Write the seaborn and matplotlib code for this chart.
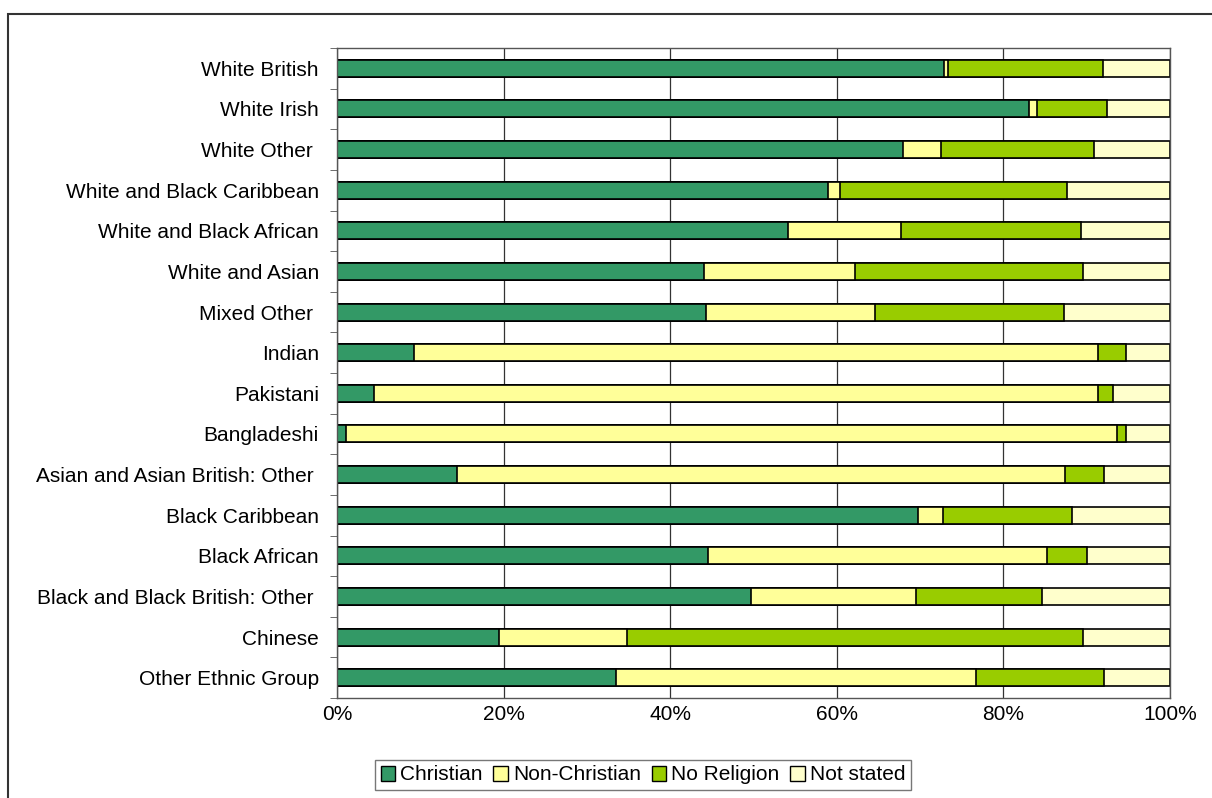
import pandas as pd
import seaborn as sns
import matplotlib.pyplot as plt
from matplotlib.patches import Patch, Rectangle

groups = ['White British', 'White Irish', 'White Other ', 'White and Black Caribbean',
          'White and Black African', 'White and Asian', 'Mixed Other ', 'Indian',
          'Pakistani', 'Bangladeshi', 'Asian and Asian British: Other ', 'Black Caribbean',
          'Black African', 'Black and Black British: Other ', 'Chinese', 'Other Ethnic Group']

christian = [72.9, 83.1, 68.0, 58.9, 54.2, 44.1, 44.3, 9.3, 4.4, 1.1, 14.4, 69.7, 44.5, 49.7, 19.5, 33.5]
non_christian = [0.5, 0.9, 4.5, 1.5, 13.5, 18.1, 20.3, 82.0, 86.9, 92.5, 73.0, 3.0, 40.7, 19.8, 15.3, 43.2]
no_religion = [18.6, 8.4, 18.4, 27.2, 21.6, 27.4, 22.7, 3.4, 1.9, 1.1, 4.7, 15.5, 4.8, 15.1, 54.8, 15.4]
not_stated = [8.0, 7.6, 9.1, 12.4, 10.7, 10.4, 12.7, 5.3, 6.8, 5.3, 7.9, 11.8, 10.0, 15.4, 10.4, 7.9]

series = ['Christian', 'Non-Christian', 'No Religion', 'Not stated']
colors = ['#339966', '#FFFF99', '#99CC00', '#FFFFCC']
fam = ['Liberation Sans', 'DejaVu Sans']

df = pd.DataFrame({'group': groups, 'Christian': christian, 'Non-Christian': non_christian,
                   'No Religion': no_religion, 'Not stated': not_stated})
# normalise rows to 100% and build cumulative sums for stacking
tot = df[series].sum(axis=1)
for s in series:
    df[s] = df[s] / tot * 100
cum = df[series].cumsum(axis=1)

fig = plt.figure(figsize=(12.12, 7.98), dpi=100)
ax = fig.add_axes([337 / 1212, 1 - 698 / 798, 833 / 1212, 650 / 798])
plt.rcParams['font.family'] = fam

# draw from the longest cumulative bar down so each segment shows
for s, c in reversed(list(zip(series, colors))):
    sns.barplot(x=cum[s], y=df['group'], color=c, width=0.42, edgecolor='black',
                linewidth=1.2, saturation=1, orient='h', ax=ax)

ax.set_xlim(0, 100)
ax.set_xticks([0, 20, 40, 60, 80, 100])
ax.set_xticklabels(['0%', '20%', '40%', '60%', '80%', '100%'], fontsize=15, family=fam)
ax.set_yticklabels(groups, fontsize=15, family=fam)
ax.set_xlabel('')
ax.set_ylabel('')
ax.set_axisbelow(True)
ax.xaxis.grid(True, color='#333333', linewidth=0.9)
ax.tick_params(axis='x', length=0, pad=5)
ax.tick_params(axis='y', length=0, pad=13)
ax.set_yticks([i + 0.5 for i in range(-1, len(groups))], minor=True)
ax.tick_params(axis='y', which='minor', length=5, direction='out', color='#555555')
ax.set_ylim(len(groups) - 0.5, -0.5)
for sp in ax.spines.values():
    sp.set_color('#555555')
    sp.set_linewidth(1.0)

handles = [Patch(facecolor=c, edgecolor='black', label=s) for s, c in zip(series, colors)]
leg = fig.legend(handles=handles, loc='center', bbox_to_anchor=(643 / 1212, 1 - 775 / 798),
                 ncol=4, frameon=True, fancybox=False, edgecolor='#555555',
                 handlelength=0.7, handleheight=0.7, handletextpad=0.25,
                 columnspacing=0.5, borderpad=0.25,
                 prop={'family': fam, 'size': 15})

# outer chart-area border
fig.patches.append(Rectangle((8 / 1212, -0.05), 1.1, 1 - 14 / 798 + 0.05, transform=fig.transFigure,
                             fill=False, edgecolor='#333333', linewidth=1.5))

fig.savefig('out.png', dpi=100)
